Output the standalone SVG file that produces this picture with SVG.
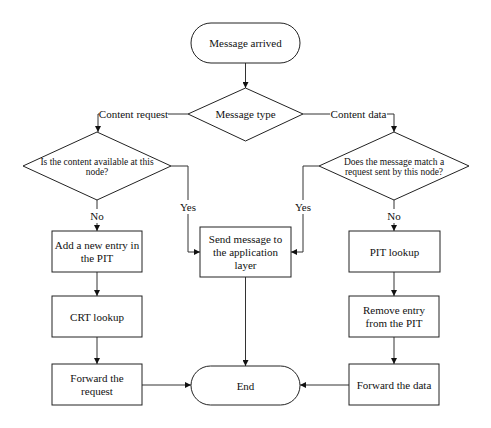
<svg xmlns="http://www.w3.org/2000/svg" width="491" height="428" viewBox="0 0 491 428" font-family="'Times New Roman', 'Liberation Serif', Tinos, 'DejaVu Serif', 'Noto Serif', serif">
<style>
.s{fill:#fff;stroke:#222;stroke-width:1}
.c{fill:none;stroke:#333;stroke-width:1}
text{font-size:11px;fill:#111;text-anchor:middle;dominant-baseline:central}
.sm{font-size:9.5px}
.bg{fill:#fff;stroke:none}
</style>
<defs>
<marker id="a" markerWidth="6" markerHeight="6" refX="6" refY="3" orient="auto" markerUnits="userSpaceOnUse"><path d="M0,0 L6,3 L0,6 Z" fill="#111"/></marker>
</defs>
<rect width="491" height="428" fill="#fff"/>
<g id="connectors">
<path class="c" d="M245.5,63 V88" marker-end="url(#a)"/>
<path class="c" d="M188,114 H98 V132" marker-end="url(#a)"/>
<path class="c" d="M303,114 H394 V132" marker-end="url(#a)"/>
<path class="c" d="M171,166 H188 V252 H200" marker-end="url(#a)"/>
<path class="c" d="M319,166 H303 V252 H291" marker-end="url(#a)"/>
<path class="c" d="M97,200 V231" marker-end="url(#a)"/>
<path class="c" d="M394,200 V231" marker-end="url(#a)"/>
<path class="c" d="M97,272 V296" marker-end="url(#a)"/>
<path class="c" d="M97,337 V364" marker-end="url(#a)"/>
<path class="c" d="M394,272 V296" marker-end="url(#a)"/>
<path class="c" d="M394,337 V364" marker-end="url(#a)"/>
<path class="c" d="M245.5,277 V366" marker-end="url(#a)"/>
<path class="c" d="M142,385 H191" marker-end="url(#a)"/>
<path class="c" d="M349,385 H300" marker-end="url(#a)"/>
<rect class="bg" x="99" y="107" width="69" height="14"/>
<text x="133.5" y="114">Content request</text>
<rect class="bg" x="330" y="107" width="57" height="14"/>
<text x="358.5" y="114">Content data</text>
<rect class="bg" x="180" y="200" width="16" height="14"/>
<text x="188" y="207">Yes</text>
<rect class="bg" x="295" y="200" width="16" height="14"/>
<text x="303" y="207">Yes</text>
<rect class="bg" x="90" y="209" width="14" height="14"/>
<text x="97" y="216">No</text>
<rect class="bg" x="387" y="209" width="14" height="14"/>
<text x="394" y="216">No</text>
</g>
<g id="start">
<rect class="s" x="191" y="23" width="109" height="40" rx="20"/>
<text x="245.5" y="43">Message arrived</text>
</g>
<g id="msgtype">
<polygon class="s" points="245.5,88 303,114 245.5,141 188,114"/>
<text x="245.5" y="114">Message type</text>
</g>
<g id="available">
<polygon class="s" points="97,132 171,166 97,200 23,166"/>
<text class="sm" x="97" y="161.5">Is the content available at this</text>
<text class="sm" x="97" y="171.5">node?</text>
</g>
<g id="match">
<polygon class="s" points="394,132 469,166 394,200 319,166"/>
<text class="sm" x="394" y="161.5">Does the message match a</text>
<text class="sm" x="394" y="171.5">request sent by this node?</text>
</g>
<g id="addentry">
<rect class="s" x="52" y="231" width="90" height="41"/>
<text x="97" y="245">Add a new entry in</text>
<text x="97" y="258">the PIT</text>
</g>
<g id="crt">
<rect class="s" x="52" y="296" width="90" height="41"/>
<text x="97" y="316.5">CRT lookup</text>
</g>
<g id="fwdreq">
<rect class="s" x="52" y="364" width="90" height="41"/>
<text x="97" y="378">Forward the</text>
<text x="97" y="391">request</text>
</g>
<g id="sendapp">
<rect class="s" x="200" y="227" width="91" height="50"/>
<text x="245.5" y="239">Send message to</text>
<text x="245.5" y="252">the application</text>
<text x="245.5" y="265">layer</text>
</g>
<g id="pit">
<rect class="s" x="349" y="231" width="91" height="41"/>
<text x="394.5" y="251.5">PIT lookup</text>
</g>
<g id="remove">
<rect class="s" x="349" y="296" width="90" height="41"/>
<text x="394" y="310">Remove entry</text>
<text x="394" y="323">from the PIT</text>
</g>
<g id="fwddata">
<rect class="s" x="349" y="364" width="90" height="41"/>
<text x="394" y="384.5">Forward the data</text>
</g>
<g id="end">
<rect class="s" x="191" y="366" width="109" height="39" rx="19.5"/>
<text x="245.5" y="385.5">End</text>
</g>
</svg>
